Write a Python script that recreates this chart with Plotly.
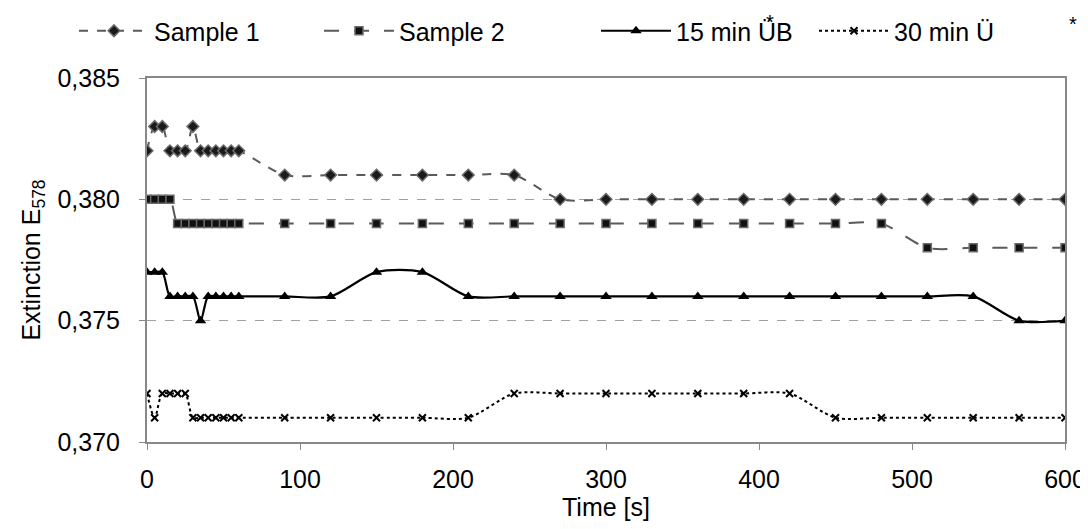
import plotly.graph_objects as go

time_s = [0, 5, 10, 15, 20, 25, 30, 35, 40, 45, 50, 55, 60,
          90, 120, 150, 180, 210, 240, 270, 300, 330, 360, 390, 420,
          450, 480, 510, 540, 570, 600]

sample1 = [0.382, 0.383, 0.383, 0.382, 0.382, 0.382, 0.383, 0.382, 0.382, 0.382, 0.382, 0.382, 0.382,
           0.381, 0.381, 0.381, 0.381, 0.381, 0.381, 0.380, 0.380, 0.380, 0.380, 0.380, 0.380,
           0.380, 0.380, 0.380, 0.380, 0.380, 0.380]
sample2 = [0.380, 0.380, 0.380, 0.380, 0.379, 0.379, 0.379, 0.379, 0.379, 0.379, 0.379, 0.379, 0.379,
           0.379, 0.379, 0.379, 0.379, 0.379, 0.379, 0.379, 0.379, 0.379, 0.379, 0.379, 0.379,
           0.379, 0.379, 0.378, 0.378, 0.378, 0.378]
ub15 = [0.377, 0.377, 0.377, 0.376, 0.376, 0.376, 0.376, 0.375, 0.376, 0.376, 0.376, 0.376, 0.376,
        0.376, 0.376, 0.377, 0.377, 0.376, 0.376, 0.376, 0.376, 0.376, 0.376, 0.376, 0.376,
        0.376, 0.376, 0.376, 0.376, 0.375, 0.375]
ub30 = [0.372, 0.371, 0.372, 0.372, 0.372, 0.372, 0.371, 0.371, 0.371, 0.371, 0.371, 0.371, 0.371,
        0.371, 0.371, 0.371, 0.371, 0.371, 0.372, 0.372, 0.372, 0.372, 0.372, 0.372, 0.372,
        0.371, 0.371, 0.371, 0.371, 0.371, 0.371]

names = ["Sample 1", "Sample 2", "15 min ÜB", "30 min Ü"]
y_ticks = [0.370, 0.375, 0.380, 0.385]
x_ticks = [0, 100, 200, 300, 400, 500, 600]

FONT = "Liberation Sans, Arial, sans-serif"
FS = 25
fig = go.Figure()

styles = [
    dict(line=dict(color="#5a5a5a", width=2, dash="dash"),
         marker=dict(symbol="diamond", size=9, color="#1a1a1a", line=dict(color="#6a6a6a", width=1.5))),
    dict(line=dict(color="#5a5a5a", width=2, dash="longdash"),
         marker=dict(symbol="square", size=8, color="#111111", line=dict(color="#6a6a6a", width=1.5))),
    dict(line=dict(color="#000000", width=2.2, dash="solid"),
         marker=dict(symbol="triangle-up", size=10, color="#000000")),
    dict(line=dict(color="#000000", width=2, dash="dot"),
         marker=dict(symbol="x-thin", size=7, color="#000000", line=dict(color="#000000", width=2))),
]
series = [sample1, sample2, ub15, ub30]
legend_text_px = [155, 400, 677, 895]
legend_ids = ["legend", "legend2", "legend3", "legend4"]

for name, ys, st, lid in zip(names, series, styles, legend_ids):
    st["line"]["shape"] = "spline"
    st["line"]["smoothing"] = 0.8
    fig.add_trace(go.Scatter(x=time_s, y=ys, mode="lines+markers", name=name,
                             legend=lid, **st))

# the page body adds an 8px offset, so the figure is 8px smaller and shifted
OFF = 8
plot_left, plot_right, plot_top, plot_bottom = 147, 1065, 78, 442
plot_w = plot_right - plot_left
plot_h = plot_bottom - plot_top
W, H = 1088 - OFF, 529 - OFF

legend_cfg = {}
for lid, px in zip(legend_ids, legend_text_px):
    legend_cfg[lid] = dict(x=(px - 81 - plot_left) / plot_w, xanchor="left",
                           y=1.0 + 0 / H, yref="container",
                           yanchor="top", orientation="h", itemwidth=70,
                           font=dict(family=FONT, size=FS, color="#000"),
                           bgcolor="rgba(0,0,0,0)")
fig.update_layout(**legend_cfg)

fig.update_layout(
    width=W, height=H,
    margin=dict(l=plot_left - OFF, r=W - (plot_right - OFF), t=plot_top - OFF,
                b=H - (plot_bottom - OFF)),
    plot_bgcolor="white", paper_bgcolor="white",
    separators=", ",
    font=dict(family=FONT, size=FS, color="#000"),
    showlegend=True,
    xaxis=dict(range=[0, 600], tickvals=x_ticks, showgrid=False, zeroline=False,
               showline=True, linecolor="#888888", linewidth=2, mirror=True,
               ticks="outside", ticklen=6, tickcolor="#888888", tickwidth=1,
               ticklabelstandoff=8, automargin=False,
               title=dict(text="Time [s]", font=dict(size=FS), standoff=6),
               tickfont=dict(size=FS)),
    yaxis=dict(range=[0.370, 0.385], tickvals=y_ticks, tickformat=".3f",
               showgrid=True, gridcolor="#a0a0a0", griddash="dash", gridwidth=1,
               zeroline=False, showline=True, linecolor="#888888", linewidth=2, mirror=True,
               ticks="outside", ticklen=6, tickcolor="#888888", tickwidth=1,
               ticklabelstandoff=14, automargin=False,
               title=dict(text="Extinction E<sub>578</sub>", font=dict(size=FS), standoff=10),
               tickfont=dict(size=FS)),
)

for (sx, sy) in [(776, 9), (1079, 11)]:
    fig.add_annotation(text="*", x=(sx - plot_left) / plot_w, y=(plot_bottom - sy) / plot_h,
                       xref="paper", yref="paper", showarrow=False, yanchor="top",
                       font=dict(size=20, family=FONT, color="#000"))

fig.write_html("out.html")
